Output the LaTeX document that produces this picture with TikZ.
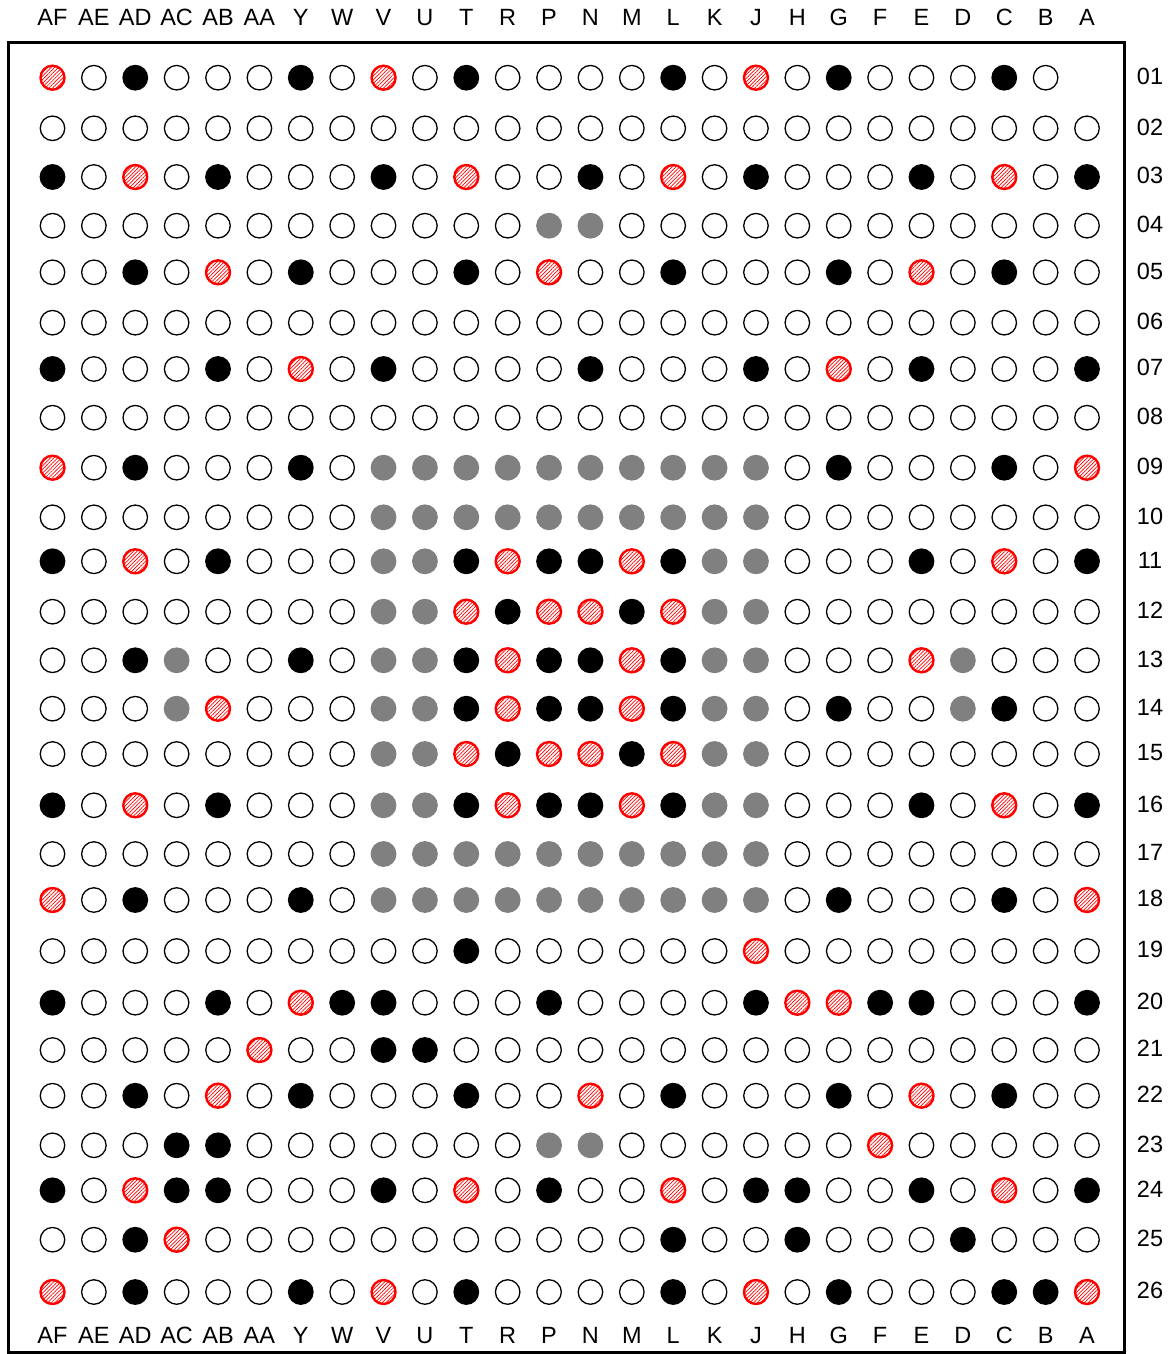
\documentclass[tikz,border=0pt]{standalone}
\usepackage{fontspec}
\setmainfont{Liberation Sans}
\usetikzlibrary{patterns.meta}
\newcommand\ballrow[3]{%
  \foreach \c [count=\i from 0] in {#3} {%
    \if\c n\else
      \node[style/.expanded={ball\c}] (b#2-\i) at ({52.5+41.38*\i},#1) {};
    \fi
  }%
  \node[lab] (r#2) at (1150,#1-1.5) {#2};
}
\begin{document}
\begin{tikzpicture}[x=1pt,y=-1pt,
  lab/.style={font=\fontsize{23.5}{28}\selectfont, inner sep=0pt, text height=16.8pt, text depth=0pt},
  ballbase/.style={circle, inner sep=0pt, minimum size=24.5pt},
  ballo/.style={ballbase, draw=black, line width=1.3pt, fill=white},
  ballb/.style={ballbase, draw=black, line width=1.3pt, fill=black},
  ballg/.style={ballbase, draw={rgb,255:red,128;green,128;blue,128}, line width=1.3pt, fill={rgb,255:red,128;green,128;blue,128}},
  ballr/.style={ballbase, minimum size=24pt, draw=red, line width=2.4pt, pattern={Lines[angle=45,distance=2.6pt,line width=0.7pt]}, pattern color=red},
  frame/.style={draw=black, line width=3pt}]
\useasboundingbox (0,0) rectangle (1174,1354);
\draw[frame] (8,42.5) rectangle (1124.3,1352.5);
\foreach \n [count=\i from 0] in {AF,AE,AD,AC,AB,AA,Y,W,V,U,T,R,P,N,M,L,K,J,H,G,F,E,D,C,B,A} {
  \node[lab] (t\i) at ({52.5+41.38*\i},17) {\n};
  \node[lab] (u\i) at ({52.5+41.38*\i},1335) {\n};
}
\ballrow{77.7}{01}{r,o,b,o,o,o,b,o,r,o,b,o,o,o,o,b,o,r,o,b,o,o,o,b,o,n}
\ballrow{128.3}{02}{o,o,o,o,o,o,o,o,o,o,o,o,o,o,o,o,o,o,o,o,o,o,o,o,o,o}
\ballrow{177}{03}{b,o,r,o,b,o,o,o,b,o,r,o,o,b,o,r,o,b,o,o,o,b,o,r,o,b}
\ballrow{225.7}{04}{o,o,o,o,o,o,o,o,o,o,o,o,g,g,o,o,o,o,o,o,o,o,o,o,o,o}
\ballrow{272.3}{05}{o,o,b,o,r,o,b,o,o,o,b,o,r,o,o,b,o,o,o,b,o,r,o,b,o,o}
\ballrow{322.7}{06}{o,o,o,o,o,o,o,o,o,o,o,o,o,o,o,o,o,o,o,o,o,o,o,o,o,o}
\ballrow{369}{07}{b,o,o,o,b,o,r,o,b,o,o,o,o,b,o,o,o,b,o,r,o,b,o,o,o,b}
\ballrow{417.7}{08}{o,o,o,o,o,o,o,o,o,o,o,o,o,o,o,o,o,o,o,o,o,o,o,o,o,o}
\ballrow{467.7}{09}{r,o,b,o,o,o,b,o,g,g,g,g,g,g,g,g,g,g,o,b,o,o,o,b,o,r}
\ballrow{517.3}{10}{o,o,o,o,o,o,o,o,g,g,g,g,g,g,g,g,g,g,o,o,o,o,o,o,o,o}
\ballrow{561.3}{11}{b,o,r,o,b,o,o,o,g,g,b,r,b,b,r,b,g,g,o,o,o,b,o,r,o,b}
\ballrow{611.7}{12}{o,o,o,o,o,o,o,o,g,g,r,b,r,r,b,r,g,g,o,o,o,o,o,o,o,o}
\ballrow{660.3}{13}{o,o,b,g,o,o,b,o,g,g,b,r,b,b,r,b,g,g,o,o,o,r,g,o,o,o}
\ballrow{708.7}{14}{o,o,o,g,r,o,o,o,g,g,b,r,b,b,r,b,g,g,o,b,o,o,g,b,o,o}
\ballrow{754}{15}{o,o,o,o,o,o,o,o,g,g,r,b,r,r,b,r,g,g,o,o,o,o,o,o,o,o}
\ballrow{805.3}{16}{b,o,r,o,b,o,o,o,g,g,b,r,b,b,r,b,g,g,o,o,o,b,o,r,o,b}
\ballrow{854}{17}{o,o,o,o,o,o,o,o,g,g,g,g,g,g,g,g,g,g,o,o,o,o,o,o,o,o}
\ballrow{900}{18}{r,o,b,o,o,o,b,o,g,g,g,g,g,g,g,g,g,g,o,b,o,o,o,b,o,r}
\ballrow{951}{19}{o,o,o,o,o,o,o,o,o,o,b,o,o,o,o,o,o,r,o,o,o,o,o,o,o,o}
\ballrow{1002.7}{20}{b,o,o,o,b,o,r,b,b,o,o,o,b,o,o,o,o,b,r,r,b,b,o,o,o,b}
\ballrow{1050}{21}{o,o,o,o,o,r,o,o,b,b,o,o,o,o,o,o,o,o,o,o,o,o,o,o,o,o}
\ballrow{1095.7}{22}{o,o,b,o,r,o,b,o,o,o,b,o,o,r,o,b,o,o,o,b,o,r,o,b,o,o}
\ballrow{1145.3}{23}{o,o,o,b,b,o,o,o,o,o,o,o,g,g,o,o,o,o,o,o,r,o,o,o,o,o}
\ballrow{1190.3}{24}{b,o,r,b,b,o,o,o,b,o,r,o,b,o,o,r,o,b,b,o,o,b,o,r,o,b}
\ballrow{1239.7}{25}{o,o,b,r,o,o,o,o,o,o,o,o,o,o,o,b,o,o,b,o,o,o,b,o,o,o}
\ballrow{1292}{26}{r,o,b,o,o,o,b,o,r,o,b,o,o,o,o,b,o,r,o,b,o,o,o,b,b,r}
\end{tikzpicture}
\end{document}
